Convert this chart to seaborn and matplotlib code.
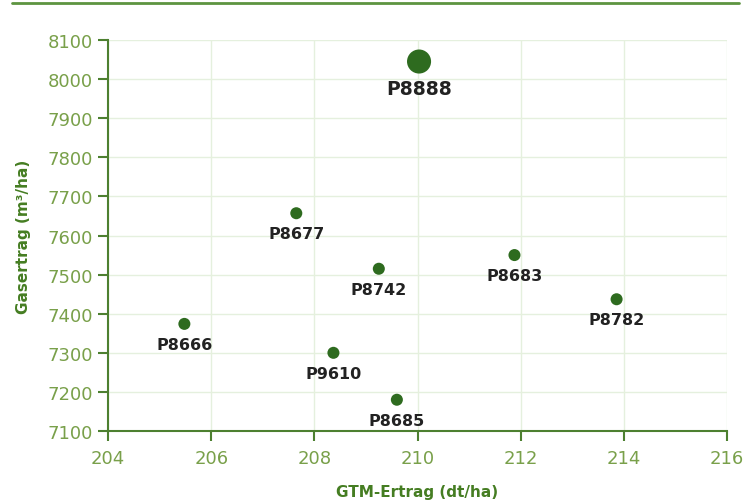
import matplotlib
matplotlib.use("Agg")
import matplotlib.pyplot as plt
import seaborn as sns
import pandas as pd
from matplotlib.lines import Line2D

names = ["P8888", "P8677", "P8742", "P8683", "P8782", "P8666", "P9610", "P8685"]
gtm = [210.03, 207.65, 209.25, 211.88, 213.86, 205.48, 208.37, 209.6]
gas = [8045, 7657, 7515, 7550, 7437, 7374, 7300, 7180]
sizes = [300, 75, 75, 75, 75, 75, 75, 75]
xticks = [204, 206, 208, 210, 212, 214, 216]
yticks = list(range(7100, 8101, 100))

df = pd.DataFrame({"name": names, "gtm": gtm, "gas": gas, "size": sizes})

sns.set_theme(style="white")
plt.rcParams['font.family'] = ['DejaVu Sans']

fig = plt.figure(figsize=(7.56, 5.02), dpi=100)
ax = fig.add_axes([0.1429, 0.1394, 0.8187, 0.7789])

point_color = "#2e6b1f"
spine_color = "#4d8030"
tick_color = "#79a04a"
label_color = "#457d22"

sns.scatterplot(data=df, x="gtm", y="gas", size="size", sizes=(75, 300),
                color=point_color, edgecolor="none", legend=False, ax=ax, zorder=3)

for n, x, y in zip(names, gtm, gas):
    big = n == "P8888"
    ax.annotate(n, (x, y), xytext=(0, -23.5 if big else -18), textcoords="offset points",
                ha="center", va="baseline", fontsize=13.5 if big else 11.5, fontweight="bold",
                color="#222222", zorder=4)

ax.set_xlim(204, 216)
ax.set_ylim(7100, 8100)
ax.set_xticks(xticks)
ax.set_yticks(yticks)
ax.grid(True, color="#e5f0de", linewidth=1)
ax.set_axisbelow(True)
for s in ["top", "right"]:
    ax.spines[s].set_visible(False)
for s in ["left", "bottom"]:
    ax.spines[s].set_color(spine_color)
    ax.spines[s].set_linewidth(1.5)
ax.tick_params(axis="both", direction="out", length=7, width=1.5, color=spine_color,
               labelcolor=tick_color, labelsize=13, bottom=True, left=True)
ax.tick_params(axis="y", pad=4)
ax.tick_params(axis="x", pad=6)
ax.set_xlabel("GTM-Ertrag (dt/ha)", fontsize=11, fontweight="bold", color=label_color, labelpad=12)
ax.set_ylabel("Gasertrag (m³/ha)", fontsize=11, fontweight="bold", color=label_color, labelpad=12)

fig.add_artist(Line2D([0.016, 0.977], [0.993, 0.993], transform=fig.transFigure,
                      color="#5d9440", linewidth=2))

fig.savefig("out.png", dpi=100)
